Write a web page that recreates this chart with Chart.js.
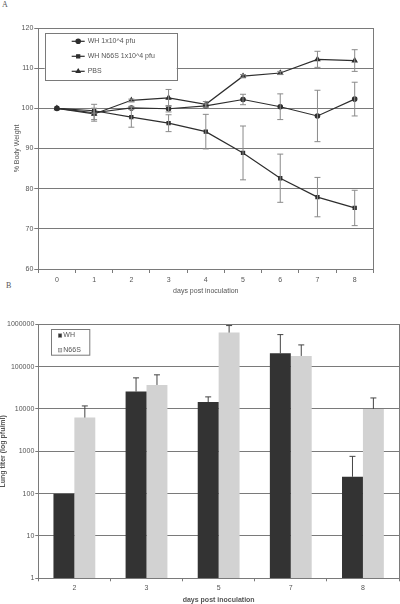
<!DOCTYPE html>
<html>
<head>
<meta charset="utf-8">
<script src="https://cdn.jsdelivr.net/npm/chart.js@4.4.1/dist/chart.umd.min.js"></script>
<style>
html, body { margin: 0; padding: 0; background: #fff; width: 400px; height: 604px; overflow: hidden; }
canvas { position: absolute; left: 0; }
#weightChart { top: 0; }
#titerChart { top: 300px; }
.panel { position: absolute; font-family: "Liberation Serif", serif; font-size: 8px; color: #555; }
</style>
</head>
<body>
<div class="panel" style="left:2px;top:0px;">A</div>
<div class="panel" style="left:6px;top:281px;">B</div>
<canvas id="weightChart" width="400" height="300"></canvas>
<canvas id="titerChart" width="400" height="304"></canvas>
<script>
// panel A - body weight
const days = ['0', '1', '2', '3', '4', '5', '6', '7', '8'];
const whWeight = [100, 98.9, 100.1, 99.9, 100.6, 102.2, 100.4, 98.1, 102.3];
const whWeightErr = [0, 2.1, 0.4, 0.8, 0.5, 1.3, 3.2, 6.4, 4.2];
const n66sWeight = [100, 99.4, 97.8, 96.3, 94.2, 88.9, 82.6, 77.9, 75.2];
const n66sWeightErr = [0, 0.6, 2.5, 2.1, 4.3, 6.7, 6.0, 4.9, 4.4];
const pbsWeight = [100, 98.6, 102.0, 102.6, 101.0, 108.0, 108.8, 112.2, 111.9];
const pbsWeightErr = [0, 1.4, 0.3, 2.1, 0.7, 0.4, 0.4, 2.0, 2.7];
const weightTicks = [60, 70, 80, 90, 100, 110, 120];

// panel B - lung titers
const titerDays = ['2', '3', '5', '7', '8'];
const whTiter = [100, 25700, 14600, 206000, 250];
const whTiterErr = [0, 28600, 4700, 365000, 510];
const n66sTiter = [6260, 36900, 637000, 179000, 10000];
const n66sTiterErr = [5540, 27100, 296000, 147000, 8200];
const titerTicks = [1, 10, 100, 1000, 10000, 100000, 1000000];

Chart.defaults.font.family = '"Liberation Sans", Arial, sans-serif';
Chart.defaults.font.size = 7;
Chart.defaults.color = '#555';
Chart.defaults.animation = false;

const gridGrey = '#7a7a7a';

// error bars, drawn from each dataset's own "errors" array
const errorBars = {
    id: 'errorBars',
    afterDatasetsDraw(chart, args, opts) {
        const ctx = chart.ctx;
        const yScale = chart.scales.y;
        ctx.save();
        ctx.strokeStyle = opts.color;
        ctx.lineWidth = 1;
        chart.data.datasets.forEach((ds, i) => {
            const meta = chart.getDatasetMeta(i);
            ds.data.forEach((v, j) => {
                const err = ds.errors[j];
                if (!err) return;
                const x = meta.data[j].x;
                const top = yScale.getPixelForValue(v + err);
                const bottom = opts.both ? yScale.getPixelForValue(v - err) : yScale.getPixelForValue(v);
                ctx.beginPath();
                ctx.moveTo(x, top);
                ctx.lineTo(x, bottom);
                ctx.moveTo(x - opts.cap, top);
                ctx.lineTo(x + opts.cap, top);
                if (opts.both) {
                    ctx.moveTo(x - opts.cap, bottom);
                    ctx.lineTo(x + opts.cap, bottom);
                }
                ctx.stroke();
            });
        });
        ctx.restore();
    }
};

// frame round the plot area
const plotFrame = {
    id: 'plotFrame',
    afterDraw(chart) {
        const a = chart.chartArea;
        const ctx = chart.ctx;
        ctx.save();
        ctx.strokeStyle = gridGrey;
        ctx.lineWidth = 1;
        ctx.strokeRect(Math.round(a.left) + 0.5, Math.round(a.top) + 0.5, Math.round(a.right - a.left), Math.round(a.bottom - a.top));
        ctx.restore();
    }
};

// boxed legend inside the plot, like the original
const boxLegend = {
    id: 'boxLegend',
    afterDraw(chart, args, o) {
        const a = chart.chartArea;
        const ctx = chart.ctx;
        const x0 = a.left + o.dx, y0 = a.top + o.dy;
        ctx.save();
        ctx.fillStyle = '#fff';
        ctx.fillRect(x0, y0, o.w, o.h);
        ctx.strokeStyle = gridGrey;
        ctx.lineWidth = 1;
        ctx.strokeRect(Math.round(x0) + 0.5, Math.round(y0) + 0.5, o.w, o.h);
        ctx.font = '7px "Liberation Sans", Arial, sans-serif';
        ctx.textBaseline = 'middle';
        chart.data.datasets.forEach((ds, i) => {
            const y = y0 + o.firstRow + i * o.rowGap;
            if (o.kind === 'line') {
                ctx.strokeStyle = ds.borderColor;
                ctx.lineWidth = 1.2;
                ctx.beginPath();
                ctx.moveTo(x0 + o.symX, y);
                ctx.lineTo(x0 + o.symX + 13, y);
                ctx.stroke();
                ctx.fillStyle = ds.borderColor;
                Chart.helpers.drawPoint(ctx, {pointStyle: ds.pointStyle, radius: 2.2, rotation: 0, borderWidth: 1}, x0 + o.symX + 6.5, y);
                ctx.fillStyle = '#555';
                ctx.fillText(ds.label, x0 + o.symX + 16, y);
            } else {
                ctx.fillStyle = ds.backgroundColor;
                ctx.fillRect(x0 + o.symX, y - 1.5, 3.5, 3.5);
                ctx.strokeStyle = '#777';
                ctx.lineWidth = 0.5;
                ctx.strokeRect(x0 + o.symX, y - 1.5, 3.5, 3.5);
                ctx.fillStyle = '#555';
                ctx.fillText(ds.label, x0 + o.symX + 5, y);
            }
        });
        ctx.restore();
    }
};

function lineSet(label, data, errors, style) {
    return {
        label: label,
        data: data,
        errors: errors,
        borderColor: '#2e2e2e',
        backgroundColor: '#2e2e2e',
        borderWidth: 1.2,
        pointStyle: style,
        pointRadius: style === 'triangle' ? 2.6 : 2.2,
        pointBackgroundColor: '#2e2e2e',
        pointBorderColor: '#2e2e2e',
        tension: 0
    };
}

new Chart(document.getElementById('weightChart').getContext('2d'), {
    type: 'line',
    data: {
        labels: days,
        datasets: [
            lineSet('WH 1x10^4 pfu', whWeight, whWeightErr, 'circle'),
            lineSet('WH N66S 1x10^4 pfu', n66sWeight, n66sWeightErr, 'rect'),
            lineSet('PBS', pbsWeight, pbsWeightErr, 'triangle')
        ]
    },
    options: {
        responsive: false,
        devicePixelRatio: 1,
        layout: { padding: { top: 28, right: 26.7, left: 0, bottom: 0 } },
        plugins: {
            legend: { display: false },
            tooltip: { enabled: false },
            errorBars: { color: '#8a8a8a', cap: 3, both: true },
            boxLegend: { kind: 'line', dx: 6.4, dy: 4.7, w: 132, h: 47, symX: 27, firstRow: 8.6, rowGap: 15 }
        },
        scales: {
            x: {
                offset: true,
                afterFit: s => { s.height = 31; },
                grid: { drawOnChartArea: false, offset: true, tickLength: 4, color: gridGrey },
                border: { color: gridGrey },
                ticks: { padding: 2.5 },
                title: { display: true, text: 'days post inoculation', padding: { top: 0, bottom: 4.5 }, font: { size: 7 } }
            },
            y: {
                min: weightTicks[0],
                max: weightTicks[weightTicks.length - 1],
                afterFit: s => { s.width = 38.3; },
                afterBuildTicks: s => { s.ticks = weightTicks.map(v => ({ value: v })); },
                grid: { color: gridGrey, tickLength: 4 },
                border: { color: gridGrey },
                ticks: { padding: 1 },
                title: { display: true, text: '% Body Weight', padding: { top: 12.8, bottom: 0 }, font: { size: 7 } }
            }
        }
    },
    plugins: [errorBars, plotFrame, boxLegend]
});

new Chart(document.getElementById('titerChart').getContext('2d'), {
    type: 'bar',
    data: {
        labels: titerDays,
        datasets: [
            { label: 'WH', data: whTiter, errors: whTiterErr, backgroundColor: '#333333' },
            { label: 'N66S', data: n66sTiter, errors: n66sTiterErr, backgroundColor: '#d2d2d2' }
        ]
    },
    options: {
        responsive: false,
        devicePixelRatio: 1,
        layout: { padding: { top: 24.3, right: 1, left: 0, bottom: 0 } },
        datasets: { bar: { categoryPercentage: 0.58, barPercentage: 1 } },
        plugins: {
            legend: { display: false },
            tooltip: { enabled: false },
            errorBars: { color: '#444', cap: 3, both: false },
            boxLegend: { kind: 'bar', dx: 12.4, dy: 4.7, w: 38.3, h: 25.7, symX: 7.6, firstRow: 6.3, rowGap: 14.7 }
        },
        scales: {
            x: {
                afterFit: s => { s.height = 25.7; },
                grid: { drawOnChartArea: false, offset: true, tickLength: 3, color: gridGrey },
                border: { color: gridGrey },
                ticks: { padding: 3 },
                title: { display: true, text: 'days post inoculation', padding: 0, font: { size: 7, weight: 'bold', lineHeight: 1 } }
            },
            y: {
                type: 'logarithmic',
                min: titerTicks[0],
                max: titerTicks[titerTicks.length - 1],
                afterFit: s => { s.width = 38.3; },
                afterBuildTicks: s => { s.ticks = titerTicks.map(v => ({ value: v })); },
                grid: { color: gridGrey, tickLength: 3 },
                border: { color: gridGrey },
                ticks: { padding: 1, callback: v => String(v) },
                title: { display: true, text: 'Lung titer (log pfu/ml)', padding: 0, font: { size: 7, weight: 'bold', lineHeight: 1 } }
            }
        }
    },
    plugins: [errorBars, plotFrame, boxLegend]
});
</script>
</body>
</html>
